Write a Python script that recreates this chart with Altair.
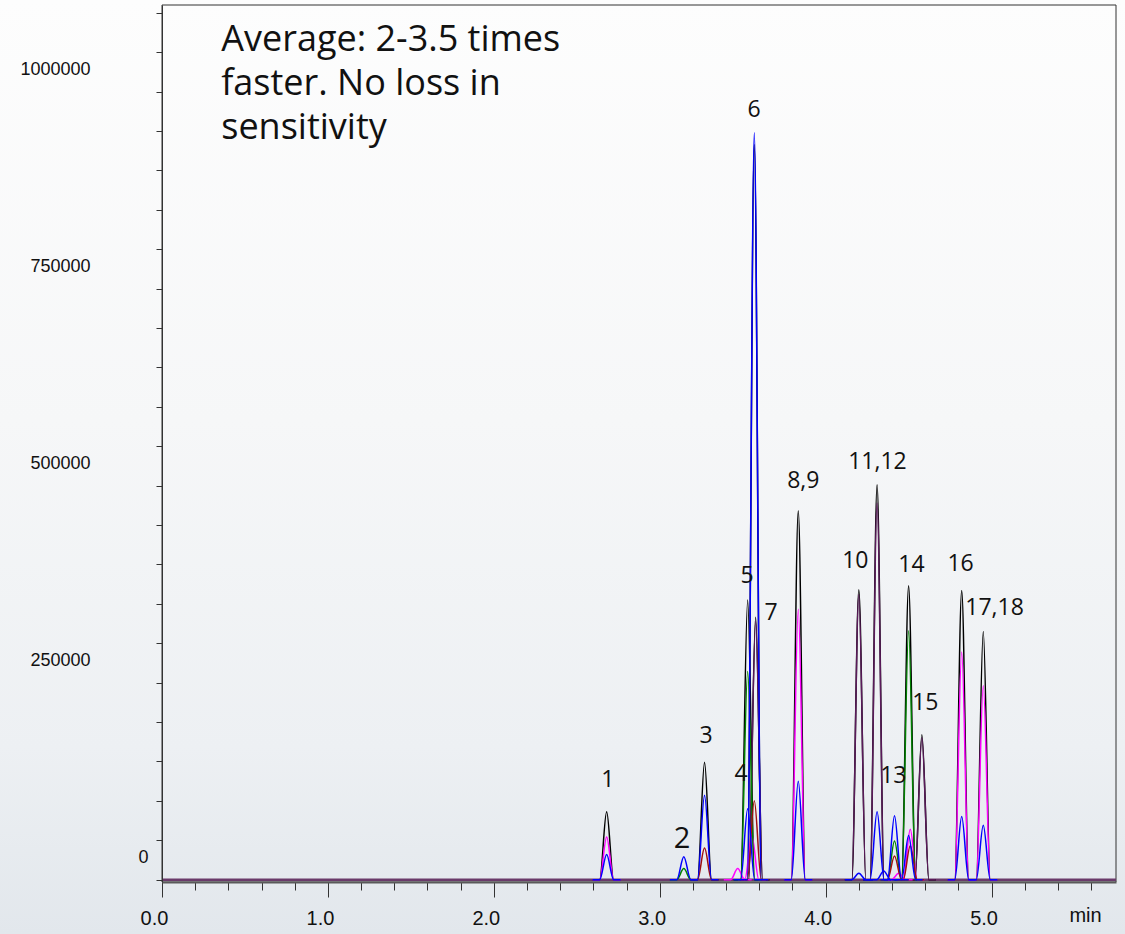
import altair as alt
import pandas as pd

# ---------------- data ----------------
black_t = [2.68, 3.27, 3.53, 3.57, 3.578, 3.835, 4.20, 4.31, 4.50, 4.58, 4.82, 4.95]
black_h = [86000, 149000, 355000, 933000, 333000, 468000, 368000, 501000, 373000, 184000, 367000, 315000]

purple_t = [3.578, 4.20, 4.31, 4.58]
purple_h = [328000, 362000, 478000, 180000]

magenta_t = [2.68, 3.47, 3.555, 3.835, 4.44, 4.51, 4.82, 4.95]
magenta_h = [54000, 14000, 56000, 343000, 8000, 64000, 289000, 246000]

green_t = [3.145, 3.53, 4.415, 4.50]
green_h = [14000, 264000, 49000, 316000]

darkred_t = [3.27, 3.57, 4.415, 4.51]
darkred_h = [40000, 100000, 30000, 43000]

blue_t = [2.68, 3.145, 3.27, 3.53, 3.57, 3.835, 4.20, 4.31, 4.35, 4.415, 4.50, 4.82, 4.95]
blue_h = [32000, 29000, 107000, 90000, 948000, 125000, 8000, 86000, 11000, 81000, 56000, 80000, 69000]

label_text = ["1", "2", "3", "4", "5", "6", "7", "8,9", "10", "11,12", "13", "14", "15", "16", "17,18"]
label_t = [2.687, 3.134, 3.279, 3.490, 3.527, 3.569, 3.671, 3.865, 4.179, 4.312, 4.408, 4.517, 4.601, 4.813, 5.018]
label_v = [126600, 51000, 182300, 134000, 384800, 977000, 338000, 506000, 405000, 530400, 131600, 398700, 224000, 400000, 344300]
label_size = [23, 29, 23, 23, 23, 23, 23, 23, 23, 23, 23, 23, 23, 23, 23]

annot_lines = ["Average: 2-3.5 times", "faster. No loss in", "sensitivity"]
annot_t = [0.357, 0.357, 0.357]
annot_v = [1065000, 1009500, 954000]

x_ticks = [round(i * 0.2, 1) for i in range(29)]
y_ticks = list(range(0, 1100001, 50000))

series_names = ["black", "purple", "magenta", "green", "darkred", "blue"]
series_colors = ["#000000", "#5a1a5a", "#ff00ff", "#008000", "#a01010", "#0000ff"]

PEAK_HW = 0.042
X_MAX = 5.75
Y_MIN, Y_MAX = -3000, 1110000

# ---------------- build the table ----------------
rows = []
pid = 0
series_data = {
    "black": (black_t, black_h),
    "purple": (purple_t, purple_h),
    "magenta": (magenta_t, magenta_h),
    "green": (green_t, green_h),
    "darkred": (darkred_t, darkred_h),
    "blue": (blue_t, blue_h),
}
for s in series_names:
    ts, hs = series_data[s]
    for t, h in zip(ts, hs):
        pts = [(t - 2 * PEAK_HW, 0), (t - PEAK_HW, 0), (t, h), (t + PEAK_HW, 0), (t + 2 * PEAK_HW, 0)]
        for k, (xx, yy) in enumerate(pts):
            rows.append({"series": s, "peak": pid, "t": xx, "v": yy, "k": k})
        pid += 1
peaks_df = pd.DataFrame(rows)

labels_df = pd.DataFrame({"text": label_text, "t": label_t, "v": label_v, "size": label_size})
annot_df = pd.DataFrame({"text": annot_lines, "t": annot_t, "v": annot_v})
base_df = pd.DataFrame({"t": [0, X_MAX], "v": [0, 0]})
one_df = pd.DataFrame({"a": [0]})

W, H = 954, 877

xscale = alt.Scale(domain=[0, X_MAX], nice=False, zero=False)
yscale = alt.Scale(domain=[Y_MIN, Y_MAX], nice=False, zero=False)

x_axis = alt.Axis(
    values=x_ticks,
    labelExpr="datum.value % 1 === 0 ? format(datum.value, '.1f') : ''",
    tickSize={"condition": {"test": "datum.value % 1 === 0", "value": 15}, "value": 8},
    tickColor="#333333",
    domainColor="#5a5a5a",
    domainWidth=2,
    labelFont="Liberation Sans",
    labelFontSize=20,
    labelColor="#111111",
    labelPadding=11,
    labelOffset=-8,
    labelFlush=False,
    labelOverlap=False,
    grid=False,
    zindex=2,
    title="min",
    titleFont="Liberation Sans",
    titleFontSize=20,
    titleFontWeight="normal",
    titleColor="#111111",
    titleX=923,
    titleY=33,
    titleAlign="center",
    titleBaseline="middle",
)
y_axis = alt.Axis(
    values=y_ticks,
    format="d",
    labelExpr="datum.value % 250000 === 0 ? datum.label : ''",
    tickSize=6,
    tickColor="#333333",
    domainColor="#333333",
    labelFont="Liberation Sans",
    labelFontSize=18,
    labelColor="#111111",
    labelAlign="right",
    labelBaseline="middle",
    labelOffset=-22,
    labelPadding={"condition": {"test": "datum.value === 0", "value": 8}, "value": 66},
    labelOverlap=False,
    labelFlush=False,
    grid=False,
    zindex=2,
    title=None,
)

X = alt.X("t:Q", scale=xscale, axis=x_axis)
Y = alt.Y("v:Q", scale=yscale, axis=y_axis)

bg = alt.Chart(one_df).mark_rect(
    clip=False,
    fill=alt.Gradient(
        gradient="linear", x1=0, y1=0, x2=0, y2=1,
        stops=[
            alt.GradientStop(offset=0, color="#fdfdfd"),
            alt.GradientStop(offset=0.45, color="#f6f7f8"),
            alt.GradientStop(offset=0.8, color="#edf0f3"),
            alt.GradientStop(offset=1, color="#e2e7ec"),
        ],
    ),
).encode(x=alt.value(-162), x2=alt.value(W + 9), y=alt.value(-5), y2=alt.value(H + 52))

frame = alt.Chart(one_df).mark_rect(fill=None, stroke="#333333", strokeWidth=1).encode(
    x=alt.value(0), x2=alt.value(W), y=alt.value(0), y2=alt.value(H)
)

baseline = alt.Chart(base_df).mark_line(color="#6a3a6a", strokeWidth=2.5).encode(x=X, y=Y)

peaks = alt.Chart(peaks_df).mark_line(interpolate="monotone", strokeWidth=1.5).encode(
    x=X,
    y=Y,
    color=alt.Color("series:N", scale=alt.Scale(domain=series_names, range=series_colors), legend=None),
    detail="peak:N",
    order="k:Q",
)

labels = alt.Chart(labels_df).mark_text(font="Open Sans", color="#111111", baseline="middle", align="center").encode(
    x=X,
    y=Y,
    text="text:N",
    size=alt.Size("size:Q", scale=None, legend=None),
)

annot = alt.Chart(annot_df).mark_text(font="Open Sans", fontSize=36, color="#111111", baseline="middle", align="left").encode(
    x=X,
    y=Y,
    text="text:N",
)

chart = alt.layer(bg, frame, baseline, peaks, labels, annot).properties(
    width=W, height=H, autosize=alt.AutoSizeParams(type="none"),
    padding={"left": 162, "top": 5, "right": 9, "bottom": 52},
    background="#f3f5f7",
).configure_view(stroke=None).configure_axis(labelOverlap=False)

chart.save("out.html", embed_options={"renderer": "svg", "actions": False})
